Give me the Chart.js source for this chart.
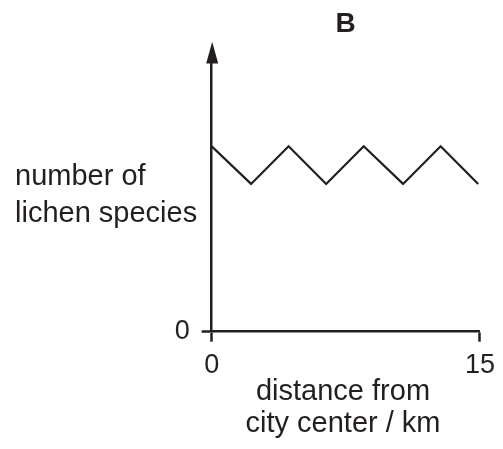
<!DOCTYPE html>
<html>
<head>
<meta charset="utf-8">
<script src="https://cdn.jsdelivr.net/npm/chart.js@4.4.1/dist/chart.umd.min.js"></script>
<style>
  html, body { margin: 0; padding: 0; background: #fff; }
  canvas { display: block; }
</style>
</head>
<body>
<canvas id="lichenChart" width="503" height="449"></canvas>
<script>
// distance from the centre (km) and relative lichen species count
const distanceKm = [0, 2.2, 4.3, 6.4, 8.5, 10.7, 12.8, 14.9];
const speciesCount = [6.9, 5.5, 6.9, 5.5, 6.9, 5.5, 6.9, 5.5];
const xTickValues = [0, 15];
const yTickValues = [0];
const titleText = 'B';
const yLabelLines = ['number of', 'lichen species'];
const xLabelLines = ['distance from', 'city center / km'];

const ink = '#231f20';
const family = '"Liberation Sans", Arial, Helvetica, sans-serif';

const labelsPlugin = {
    id: 'labels',
    afterDraw(chart) {
        const ctx = chart.ctx;
        const area = chart.chartArea;
        ctx.save();
        ctx.fillStyle = ink;

        // arrow head on top of the y axis
        const ax = area.left + 0.5;
        ctx.beginPath();
        ctx.moveTo(ax, 41.7);
        ctx.lineTo(ax - 6, area.top + 0.5);
        ctx.lineTo(ax + 6, area.top + 0.5);
        ctx.closePath();
        ctx.fill();

        ctx.textBaseline = 'alphabetic';
        ctx.font = 'bold 28px ' + family;
        ctx.textAlign = 'center';
        ctx.fillText(titleText, 345.7, 31.7);

        ctx.font = '29px ' + family;
        ctx.textAlign = 'left';
        ctx.fillText(yLabelLines[0], 15, 185);
        ctx.fillText(yLabelLines[1], 15, 221.5);

        ctx.textAlign = 'center';
        ctx.fillText(xLabelLines[0], 343, 400);
        ctx.fillText(xLabelLines[1], 343, 431.5);
        ctx.restore();
    }
};

const ctx = document.getElementById('lichenChart').getContext('2d');

new Chart(ctx, {
    type: 'line',
    data: {
        datasets: [{
            data: distanceKm.map((d, i) => ({ x: d, y: speciesCount[i] })),
            borderColor: ink,
            borderWidth: 2.2,
            pointRadius: 0,
            tension: 0,
            fill: false
        }]
    },
    options: {
        responsive: false,
        animation: false,
        devicePixelRatio: 1,
        layout: { padding: { top: 63, right: 20, left: 0, bottom: 0 } },
        plugins: {
            legend: { display: false },
            tooltip: { enabled: false }
        },
        scales: {
            x: {
                type: 'linear',
                min: 0,
                max: 15,
                afterBuildTicks: scale => { scale.ticks = xTickValues.map(v => ({ value: v })); },
                afterFit: scale => { scale.height = 117.3; },
                border: { display: true, color: ink, width: 2.5 },
                grid: { drawOnChartArea: false, drawTicks: true, tickLength: 10, tickWidth: 2.5, color: ink },
                ticks: { color: ink, padding: 8, maxRotation: 0, font: { family: family, size: 27 } }
            },
            y: {
                type: 'linear',
                min: 0,
                max: 10,
                afterBuildTicks: scale => { scale.ticks = yTickValues.map(v => ({ value: v })); },
                afterFit: scale => { scale.width = 211.7; },
                border: { display: true, color: ink, width: 2.5 },
                grid: { drawOnChartArea: false, drawTicks: true, tickLength: 10, tickWidth: 2.5, color: ink },
                ticks: { color: ink, padding: 12, font: { family: family, size: 27 } }
            }
        }
    },
    plugins: [labelsPlugin]
});
</script>
</body>
</html>
